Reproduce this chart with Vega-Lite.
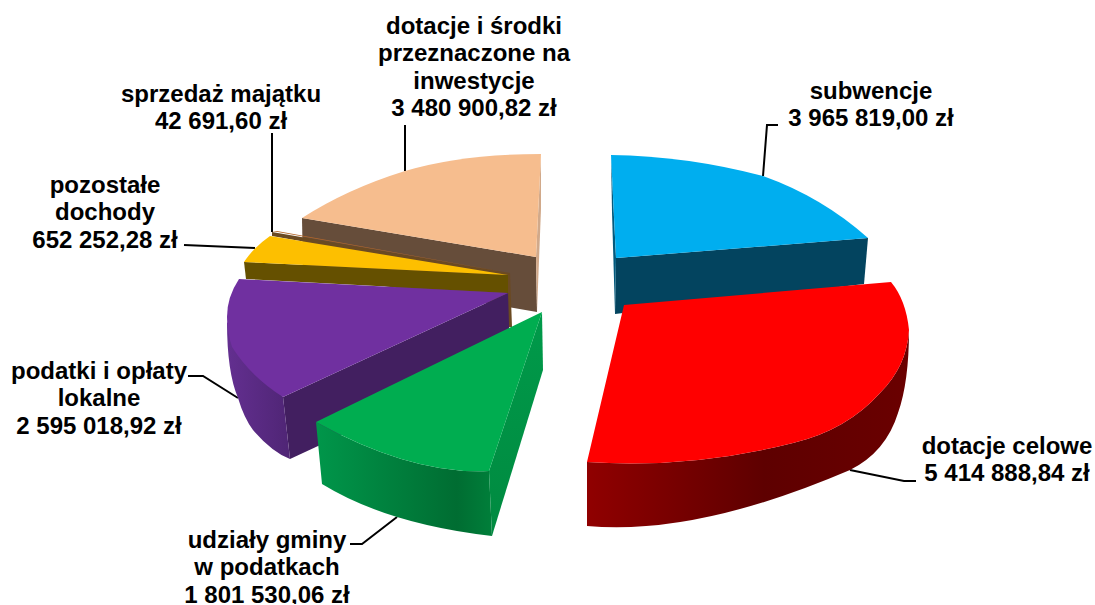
{
"$schema":"https://vega.github.io/schema/vega-lite/v6.json",
"width":1094,"height":604,"padding":0,"autosize":{"type":"none"},
"background":"#ffffff",
"config":{"view":{"stroke":null}},
"data":{"values":[
{"kategoria":"dotacje i środki","wartosc":3480900.82,"etykieta":"dotacje i środki\nprzeznaczone na\ninwestycje\n3 480 900,82 zł"},
{"kategoria":"subwencje","wartosc":3965819.00,"etykieta":"subwencje\n3 965 819,00 zł"},
{"kategoria":"sprzedaż majątku","wartosc":42691.60,"etykieta":"sprzedaż majątku\n42 691,60 zł"},
{"kategoria":"pozostałe dochody","wartosc":652252.28,"etykieta":"pozostałe\ndochody\n652 252,28 zł"},
{"kategoria":"podatki i opłaty lokalne","wartosc":2595018.92,"etykieta":"podatki i opłaty\nlokalne\n2 595 018,92 zł"},
{"kategoria":"dotacje celowe","wartosc":5414888.84,"etykieta":"dotacje celowe\n5 414 888,84 zł"},
{"kategoria":"udziały gminy w podatkach","wartosc":1801530.06,"etykieta":"udziały gminy\nw podatkach\n1 801 530,06 zł"}
]},
"resolve":{"scale":{"shape":"independent","fill":"independent"}},
"layer":[
{"mark":{"type":"point","filled":false,"size":4,"stroke":"#000000","strokeWidth":2,"opacity":1},
 "encoding":{"shape":{"field":"kategoria","type":"nominal","legend":null,"scale":{
  "domain":["dotacje i środki","subwencje","sprzedaż majątku","pozostałe dochody","podatki i opłaty lokalne","dotacje celowe","udziały gminy w podatkach"],
  "range":["M-142,-131 L-142,-177","M216,-126 L220,-177 L231,-177","M-275,-70 L-275,-169","M-363,-57 L-292,-54","M-309,96 L-344,74 L-359,74","M303,168 L357,179 L369,179","M-150,215 L-185,242 L-197,242"]}}}},
{"transform":[{"filter":{"field":"kategoria","oneOf":["dotacje i środki","subwencje","sprzedaż majątku","pozostałe dochody","podatki i opłaty lokalne"]}}],
 "mark":{"type":"point","filled":true,"size":4,"opacity":1,"strokeWidth":0},
 "encoding":{
  "shape":{"field":"kategoria","type":"nominal","legend":null,"scale":{
   "domain":["dotacje i środki","subwencje","sprzedaż majątku","pozostałe dochody","podatki i opłaty lokalne"],
   "range":["M-245,-84 L-11,-45 L-10,10 L-244,-30 Z","M69,-44 L321,-64 L317,-18 L68,12 Z","M-275,-70 L-37,-29 L-35,25 L-39,25 L-39,-24 L-275,-66 Z","M-303,-40 L-39,-27 L-39,-9 L-301,-23 Z","M-264,95 L-39,-9 L-37,55 L-257,157 Z"]}},
  "fill":{"field":"kategoria","type":"nominal","legend":null,"scale":{
   "domain":["dotacje i środki","subwencje","sprzedaż majątku","pozostałe dochody","podatki i opłaty lokalne"],
   "range":["#664d3a","#03445f","#6b4a22","#655000","#421f60"]}}}},
{"transform":[{"filter":{"field":"kategoria","oneOf":["dotacje i środki","subwencje"]}}],
 "mark":{"type":"point","filled":true,"size":4,"opacity":1,"strokeWidth":0},
 "encoding":{
  "shape":{"field":"kategoria","type":"nominal","legend":null,"scale":{
   "domain":["dotacje i środki","subwencje"],
   "range":["M-6,-148 L-11,-45 L-10,10 L-6,-93 Z","M64,-147 L69,-44 L68,12 L65,-90 Z"]}},
  "fill":{"field":"kategoria","type":"nominal","legend":null,"scale":{
   "domain":["dotacje i środki","subwencje"],"range":["#d1a98a","#035a7d"]}}}},
{"transform":[{"filter":{"field":"kategoria","equal":"dotacje celowe"}}],
 "mark":{"type":"point","filled":true,"size":4,"opacity":1,"strokeWidth":0,
  "shape":"M40,160 Q143,167 246,141 Q300,128 333,91 Q360,64 362,28 Q362,80 351,111 Q339,150 303,168 Q149,234 40,224 Z",
  "fill":{"gradient":"linear","x1":0,"y1":0,"x2":1,"y2":0,"stops":[{"offset":0,"color":"#900000"},{"offset":0.55,"color":"#5e0000"},{"offset":1,"color":"#6a0000"}]}}},
{"transform":[{"filter":{"field":"kategoria","equal":"podatki i opłaty lokalne"}}],
 "mark":{"type":"point","filled":true,"size":4,"opacity":1,"strokeWidth":0,
  "shape":"M-264,95 L-320,20 Q-320,70 -309,96 Q-303,116 -294,128 Q-275,150 -257,157 Z",
  "fill":{"gradient":"linear","x1":0,"y1":0,"x2":1,"y2":0,"stops":[{"offset":0,"color":"#632f90"},{"offset":1,"color":"#4f2575"}]}}},
{"transform":[{"filter":{"field":"kategoria","equal":"udziały gminy w podatkach"}}],
 "mark":{"type":"point","filled":true,"size":4,"opacity":1,"strokeWidth":0,
  "shape":"M-231,120 Q-135,173 -58,169 L-55,234 Q-160,222 -225,182 Z",
  "fill":{"gradient":"linear","x1":0,"y1":0,"x2":1,"y2":0,"stops":[{"offset":0,"color":"#00964a"},{"offset":0.8,"color":"#006d32"},{"offset":1,"color":"#007f3a"}]}}},
{"transform":[{"filter":{"field":"kategoria","equal":"udziały gminy w podatkach"}}],
 "mark":{"type":"point","filled":true,"size":4,"opacity":1,"strokeWidth":0,
  "shape":"M-5,10 L-4,68 L-55,234 L-58,169 Z",
  "fill":{"gradient":"linear","x1":0,"y1":0,"x2":0,"y2":1,"stops":[{"offset":0,"color":"#009a4a"},{"offset":1,"color":"#008a40"}]}}},
{"mark":{"type":"point","filled":true,"size":4,"opacity":1,"strokeWidth":0},
 "encoding":{
  "shape":{"field":"kategoria","type":"nominal","legend":null,"scale":{
   "domain":["dotacje i środki","subwencje","sprzedaż majątku","pozostałe dochody","podatki i opłaty lokalne","dotacje celowe","udziały gminy w podatkach"],
   "range":[
    "M-6,-148 Q-85,-148 -142,-131 Q-200,-113 -245,-84 L-11,-45 Z",
    "M64,-147 Q140,-146 216,-126 Q275,-105 321,-64 L69,-44 Z",
    "M-275,-71 L-270,-71 L-38,-29 Z",
    "M-277,-66 Q-293,-55 -303,-40 L-39,-27 Z",
    "M-308,-23 L-39,-9 L-264,95 Q-296,75 -315,45 Q-320,30 -320,15 Q-320,-5 -308,-23 Z",
    "M77,3 L344,-20 Q359,-2 362,28 Q360,64 333,91 Q300,128 246,141 Q143,167 40,160 Z",
    "M-5,10 L-58,169 Q-135,173 -231,120 Z"]}},
  "fill":{"field":"kategoria","type":"nominal","legend":null,"scale":{
   "domain":["dotacje i środki","subwencje","sprzedaż majątku","pozostałe dochody","podatki i opłaty lokalne","dotacje celowe","udziały gminy w podatkach"],
   "range":["#f6bd8e","#00aeef","#b5682b","#fdbf00","#7030a0","#ff0000","#00ad50"]}}}},
{"transform":[{"filter":{"field":"kategoria","equal":"subwencje"}}],"mark":{"type":"text","font":"Liberation Sans","fontWeight":"bold","fontSize":24,"lineBreak":"\n","lineHeight":27.4,"align":"center","baseline":"middle","color":"#000000","dx":324,"dy":-210},"encoding":{"text":{"field":"etykieta"}}},
{"transform":[{"filter":{"field":"kategoria","equal":"dotacje celowe"}}],"mark":{"type":"text","font":"Liberation Sans","fontWeight":"bold","fontSize":24,"lineBreak":"\n","lineHeight":27.4,"align":"center","baseline":"middle","color":"#000000","dx":460,"dy":145},"encoding":{"text":{"field":"etykieta"}}},
{"transform":[{"filter":{"field":"kategoria","equal":"dotacje i środki"}}],"mark":{"type":"text","font":"Liberation Sans","fontWeight":"bold","fontSize":24,"lineBreak":"\n","lineHeight":27.4,"align":"center","baseline":"middle","color":"#000000","dx":-73,"dy":-275},"encoding":{"text":{"field":"etykieta"}}},
{"transform":[{"filter":{"field":"kategoria","equal":"sprzedaż majątku"}}],"mark":{"type":"text","font":"Liberation Sans","fontWeight":"bold","fontSize":24,"lineBreak":"\n","lineHeight":27.4,"align":"center","baseline":"middle","color":"#000000","dx":-326,"dy":-207},"encoding":{"text":{"field":"etykieta"}}},
{"transform":[{"filter":{"field":"kategoria","equal":"pozostałe dochody"}}],"mark":{"type":"text","font":"Liberation Sans","fontWeight":"bold","fontSize":24,"lineBreak":"\n","lineHeight":27.4,"align":"center","baseline":"middle","color":"#000000","dx":-442,"dy":-116},"encoding":{"text":{"field":"etykieta"}}},
{"transform":[{"filter":{"field":"kategoria","equal":"podatki i opłaty lokalne"}}],"mark":{"type":"text","font":"Liberation Sans","fontWeight":"bold","fontSize":24,"lineBreak":"\n","lineHeight":27.4,"align":"center","baseline":"middle","color":"#000000","dx":-448,"dy":70},"encoding":{"text":{"field":"etykieta"}}},
{"transform":[{"filter":{"field":"kategoria","equal":"udziały gminy w podatkach"}}],"mark":{"type":"text","font":"Liberation Sans","fontWeight":"bold","fontSize":24,"lineBreak":"\n","lineHeight":27.4,"align":"center","baseline":"middle","color":"#000000","dx":-280,"dy":239},"encoding":{"text":{"field":"etykieta"}}}
]
}
